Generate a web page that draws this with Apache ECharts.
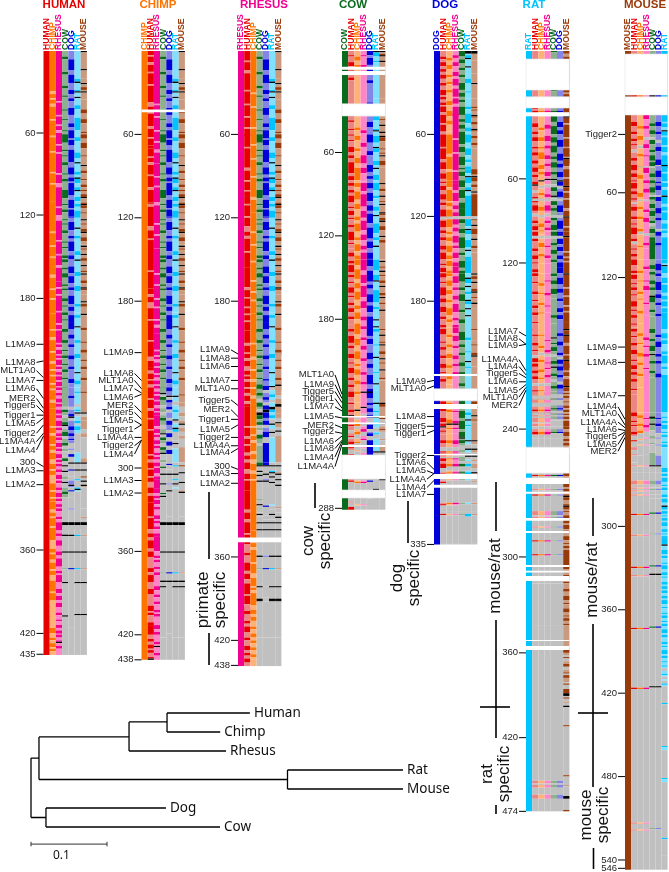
<!DOCTYPE html>
<html>
<head>
<meta charset="utf-8">
<style>
  html, body { margin: 0; background: #fff; }
  #chart { width: 669px; height: 872px; }
</style>
<script src="https://cdn.jsdelivr.net/npm/echarts@6/dist/echarts.min.js"></script>
</head>
<body>
<div id="chart"></div>
<script>
// stripes are written as level + row count, @n jumps to display row n
// f = full colour, t = tint, k = black, g = grey (no match)
const speciesOrder = ['HUMAN', 'CHIMP', 'RHESUS', 'COW', 'DOG', 'RAT', 'MOUSE']
const fullColors = ['#e60000', '#ff7300', '#f20090', '#0a6a1e', '#0000d8', '#00c4ff', '#993a0a']
const tintColors = ['#ec8585', '#ffb277', '#ff85c8', '#8fb08f', '#8585e8', '#80e0ff', '#c99a80']

// columns shared by the three primate panels, top part
const primateCow = 't4f2t9f2t8f2t5ft9ft6ft7ft3 @60 f6t5ft3ft4f2t6ft3f2t6 @100 f6t4ft3f2t5ft2ft4f2t6ft3ft5f2t4ft3f2t7ft2ft5f3t3 @150 f2t4ft3f3t5ft2ft6f2t3ft4f2t3ft6f3t4ft2 @200 f2t6f2t5ft3f2t4ft3f2t4ft6f3t3f2t3'
const primateDog = 't6f8t3f6t5f3t3f2t9 @41 f5t6f3t2f6tf4t3f9t2f6 @80 t4f5t2f3tf9t3f6tf5 @120 t3f6t4f2t2f7t3f3t5f4 @160 t2f5t3f2t4f6t2f3t3f5 @200 t4f3t4f2t6f3t5f2t7f3'
const primateRat = 't20f2kt5fkt3kt5f3t6f9t5f3t8f4t6ft5f2 @80 kt6f2t2kf3t3f2kt4f3t8 @110 f2t3f5t7kt5f2t9f3t6 @150 kt8f3t7f4t9f2t4 @190 f2t6kt9f2t8f3t10kt5f3'
const primateMouse = 'kt12kt6t3kt2f2tkt5t7f3t4f3t6ft4 @60 f3t3f4t5ft6kt3f2t4ft3f2t3 @100 ft2f2kt3fkf2t3ft4kt2ft3f2kt3f3t2 @140 ktft3kt2f2t3kt3ftkt4f2t3kft3 @180 ktf2t5kt9f2t8ft9 @215 f2t5ft4f2t6f2t7'

// human panel
const humanHuman = 'f435'
const humanChimp = 'f29t2f3tf3t2f9tf11tf10tf14tf7tf12 @130 tf9tf7tf12t2f8tf6tf10 @200 tf5t2f8tf6t2f4tf3tf5tf3tf7t2f4 @270 tf4t2f6tf3t2f5t3f4tf3t6f5tf4tf2 @330 t2f3tf6tf9t6f3tf4t2f5tf3t4f8tf6t2f3tf4 @395 t20f4t3f2t2f3tf2t6'
const humanRhesus = 'f36tf9tf6tf3t2f8tf5tf14tf6t3f4tf5t @100 f12tf5t4f14tf9tf7t2f10 @170 tf4tf11tf8tf3tf4 @210 tf2t2f3tf2tf4tf2t2f2tf3tf3tf2t2f2t2f3tf2t2f3tf2t2f4 @270 tf2t2f2tf2t2f3tf2t2f3tf2tf2t2f2t2f3tf2t3f2t2f3tf2t2f2tf2t4f2t2f2tf2 @340 f5t2f2t3f4t4f3t2f6t3f2tf5t5f3t2f3t2f3t4f2t3f2t2f2t3f2 @410 t3f2t2f2tf2t2fkt2f2'
const humanCow = primateCow + ' @242 t14g2f2t2g2t3f2kg2t2f3g2t3f2g2t2g5f2g2 @296 g2kg3kg3t2g2kg3t3f2t2g20f2g8 @339 k2g7kg11kg11tg9kg23kg31'
const humanDog = primateDog + ' @242 t6f2t6g2t3f2kg2t4f3t2f2t2ft2g4tg3 @290 f2g4kg4fg4g3t3ktg2fg4g8tg14 @339 k2g7kg11kg11fg42'
const humanRat = primateRat + ' @242 t3ft8g2t2ftkg2t3f2gtf3t2g14 @296 kg4kg6fg5fktg27 @339 k2g7fg11kg11fg9kg22kg31'
const humanMouse = primateMouse + ' @242 t3ft14kg2t3t6g3t3g15 @296 kg4kg4fg2kg2ktg15g6tg2g6 @339 k2g7tg11kg11tg9kg22kg31'

// chimp panel
const chimpChimp = 'f438'
const chimpHuman = 'f3tf4t2f5tf8tf12t3f4tf9t2f6tf5 @70 f6tf3t2f7tf8t2f9 @110 t2f14t3f6tf22tf12 @175 t2f4t4f8tf14tf11t3f5 @230 t2f4tf3t2f8tf6t2f5tf7tf9 @290 tf3t2f4tf5tf3t4f4t2f5 @335 tf8t3f3t2f6t2f4t8f3t2f5t5f4t8f4tf2t5f2 @420 t3f2t2f3tf2t3fkf3t2f2'
const chimpRhesus = 'f38tf8tf9tf7tf5t2f8 @90 tf6tf11t2f13tf7tf9 @160 tf7tf9tf5tf8tf3t2f4 @215 tf3tf2t2f3tf4tf2t2f3tf2t2f2tf3tf3t2f2tf2 @270 t2f3tf2t2f3tf2t3f2tf2t2f3tf4t2f2 @315 f3t2f2tf3t2f2t4f3tf2t2f2t3f2 @360 t3f2tf2t3f2t2f2t8f3t3f2t3f2t4f2tf2 @410 t3f3t2f2t5f2tkt4f2'
const chimpCow = primateCow + ' @242 t4kg2f2t4g2t3g2t2f2t3g3t3kg2f2t2g3f2t2kg4 @296 g3fg4kg6kg6fgkg17g4 @339 k2g19kg14tg5kg3kg36'
const chimpDog = primateDog + ' @242 f3t3kg2f2t3f2g2t4g2f3t4g2f3g3f3g3 @290 g7fg3g3kg6tg4kg18 @339 k2g19kg14fg5kg37'
const chimpRat = primateRat + ' @242 t6kt3g3t3f2t5kg2t3kf2g6g2kg3 @296 g2fg5kg3fg2kg2tg25 @339 k2g19kg14fg5kg3kg36'
const chimpMouse = primateMouse + ' @242 t5ft5t3g4t3g3t2kg2t3g3t2g6 @296 g2fg4kg6kg5tkg17g4 @339 k2g19kg14tg5kg3kg36'

// rhesus panel
const rhesusRhesus = 'f443'
const rhesusHuman = 'f7tf6t2f12tf9tf8tf7tf5 @60 f9tf14t2f7tf6tf4 @110 tf8tf6t4f3t2f9tf11 @170 t2f5tf6tf4tf4tf6 @210 t2f5tf3t2f4t3f3tf2t2f4tf3t2f4t2f2 @270 tf6t2f4tf5t2f3t2f5t3f4tf7 @330 t2f5t2f8tf3 @355 t6f2t5f6t2f4t3f8tf6t2f8 @400 t3f2t5f2t2f4t4f2t4f3t2f2t2f3t4f2'
const rhesusChimp = 'f30tf9tf14tf11tf9tf12tf14t2f9 @130 tf8tf11tf13tf7tf5tf9 @210 tf9t2f7tf6t2f4tf5t2f4 @270 tf5tf3t2f6t2f4t3f5t2f4tf9 @345 f8tf3t2f9tf7t3f6tf2t2f5 @395 f4t3f3t2f3t4f2t3f3t2f2t3f2t3f2t2'
const rhesusCow = primateCow + ' @237 t3f3t3f2t2g3f3t2g2k2f3t2f2g2t2g3f3t3g2 @296 f2kg3kgtkg3kg12tg3kg2tg2gkg @339 kg4kg18kg8tg12kg8kkg26'
const rhesusDog = primateDog + ' @237 t4f3g2t3f2t2g2f3k2f4t2f3g2t3f4g4 @296 f2kg5kg3tkg3g14fg6g3 @339 kg4kg18tg8fg12g8g3g26'
const rhesusRat = primateRat + ' @237 t4kg2t3f2t2g2t3k2f2t2f2tg3kt3g2kg3 @296 g2kg3fkg2kg3kg15tg3g3kg3 @339 kg4kg18kg8fg12kg8kkg26'
const rhesusMouse = primateMouse + ' @237 t3kt5t2g2t4k2t5t3g3kt3g2kg3 @296 g2kg4tkg3kg3kg15tg3g3kg3 @339 kg4kg18kg8tg12kg8kkg26'

// cow panel
const cowCow = 'f330'
const cowHuman = 't3ft4f3t3ft4f2t30 @47 t3ft5ft3ft3ft4f4t2f2t3f8t2f3t4 @95 f2t3f2t2f5t3ft2f3t2ft4f2t3f6t2ft3 @145 f3t3f2tf5t2f2t3ft3f4t2ft4f2t2f3t3f2t4 @200 f2t3f5t2f2t4f3t3ft3f4t3f2t3f2t3f4t3 @253 ft4f2t2kt4t2ft3g2t2fgt2f2gtftg3ftg2 @300 ftg3t2gtfg8ftg4tg3f2tg8'
const cowChimp = 't4f3t3f2t28 @47 t8f2t4f3t6f2t5f4t3f9t4 @95 f3t3f6t3f4t5f3t2f6t4f2t3f5t3 @150 f4t3f7t3f4t2f6t4f3t2f5t3f8t3 @210 f2t4f6t3f2t2f4t4f3t5f2t6 @258 kt4g2t3f2g2t2f2g3t2fg5tg3 @300 ftg3t3gtfg8t2g5tg3f2tg8'
const cowRhesus = 't3ft6f2t24 @47 t10f2t7f3t6f6t3f4t6 @95 f6t2f9t3f5t2f7t3f4t4f3t2 @150 f8t3f6t2f8t3f5t6f3t4 @200 t6f2t4f3t6f2t8f2t5f2 @245 kt10kt4g2t4fg2t2f2g3t2fg5tg3 @300 ftg3t3gtfg8t2g5tg3f2tg8'
const cowDog = 'f3t2f5t3f2t6f2t14f2t2 @47 t4f4t5f6t6f3t7f5t3f2t3 @95 f4t3f6t3f4t2f7t3f8t2f5t3f4 @150 f5t3f8t2f3t4f6t2f5t3f9t4 @200 f5t2f4t6f5t3f3t5f7t3f4 @245 kf4t3f2t2f3t2f2g3t2f3g2tf2g3 @290 fg3tg5fg3tg4fg12g6'
const cowRat = 'kf3t3ft26 @47 f3t4t2fkt3f5t3kf3t6f3t2kt4f4t3 @95 f5t4f2t6f3t3kt5f7t3f2t4kt5 @150 f8t3f4kt6f9t3f2t7kt4kt4 @200 f2t9ft8kt10ft7kt4 @253 kt5ft3kt3ft3g3tfg3 @288 kg6ftg4kg3kg9kg2'
const cowMouse = 'ktfkt3kt26 @47 t2ft3kt4kt2kf3t5ft2ftkt3f3t2 @95 kt3f2t3kt3ftkt5kft2f2kt3f3t4kt2f2 @150 tkt3ft2kt2ft3f2t2kt4f2tkt3ft4kt3 @200 ft3kt4ftkt4f2t3kt2ft4kt5ft @253 kf2t3t5fg2kg2t2ftg5tg3 @288 kg4tg5tg4kg3kg9kg2'

// dog panel
const dogDog = 'f355'
const dogHuman = 't4f2t2f3t2f2t2f3t3f2t3f4tf2t2f2t3 @40 f4t2f6tf5t2f9tf8t2f5 @85 t3f4t2ft2f3t3f4t2f2t3f6 @119 g2tf5t2f2t3f2t4f3t2f5t3ft2f3t4 @160 f3t3ft3f6t2f3t3f4t3f2t4f2t3 @200 f4t5ft3f2t4f2t4f3t3ft4f2t3 @245 t7f2t3f2t5f3tf2kt2ft2 @280 f2t3g3ft3gf2t3g2 @297 f3g3tf2tg2tfg4 @325 tfg4g2fg20'
const dogChimp = 't5f2t3f3t4f2t3f2t4f2t6f3t4f4t3f3t5 @60 f14t2f9t2f6 @95 f3t2f8tf3t2f6 @119 g2f6t3f2t2f3t3f5t2f3tf4t3 @160 f2t3f4t3f3t4f2t4f5t3f2t4 @200 t4f2t5f2t3t2f3t5f2t6f2t4 @245 t8f2t3f2t5f3kt2ft3 @280 f2t3g3ft3gft3g2 @297 f2g3tft2g2tg4 @325 ftg4g2tg20'
const dogRhesus = 't3f2t3f3t4f3t2f5t2f6tf4t2f7 @45 f18tf9tf12tf6 @95 f5t2f6t3f3t2 @119 g2f4t2f3t3f5t2f2t3f4t3f3 @160 t2f5t3f2t4f3t3f6t4f2t3f2 @200 f3t2f4t3f2t5f3t3f2t4f3t2 @245 t9f2t3ft6f2kt2ft3 @280 f3t2g3ft2g2ft3g2 @297 f2g3tft2g2tg4 @325 ftg4g2tg20'
const dogCow = 'f4t2f3t3f2t3f2t4f5t2f3t2f2t3 @40 f6t3f2t2f3t2f9t2f4t3f6t2f5 @85 t2f3t3f5t2f6t3f4 @119 g2f3t4f3t3f8t3f2t4f5t2 @160 f6t4f2t3f5t6f2t5f3t4 @200 t2f6t3f2t4f2t5f3t4f2t6f2 @245 t5f6t3f5t2f6t2f4kt3 @280 f2t2g3t2g3t3g2 @297 f2g3tft2g2tg4 @325 tg5g2tg20'
const dogRat = 'k2tf2kt5kt8f3t6ft4 @40 f2t3f7t3f3t2f6t4f5t3f2t3 @85 f3t2kf4t3f2kt3 @119 g2f5t2kf3t4f5t2kt4f3 @160 t3kf3t2kt3f2t4kf2t3kt4kt @200 t6f2t8ft6kt3ft6 @245 t3kt6ft4f2t3kt3f @280 kt2g3kt2g2kg2t @297 f2g3tf2tg2tg4 @325 tg5g2f2g20'
const dogMouse = 'k2t5t9t7kt10 @40 ftft3kft3f2t3kft3f2t3f2t2 @85 f4tkf3t2f2t3kt @119 g2ft3kt2f4t3kt4f2t3 @160 ktf2t2kt4f2kt3ft3kt3 @200 ft7t3ft5f2kt7 @245 t2kt4f2t2kt5kt2ft @280 kt2g3kt2g2kg2t @297 t3g3kt2g3tg4 @325 tg5g2tg20'

// rat panel
const ratRat = 'f547'
const ratTailA = ' @245 t3g3t2g3t2ftg2tgt3g @270 g2t2f2g3 @303 g2fg9tg3fg11t3gtg6tg9fg9fg20g30 @430 g95t2gt2g5t3g30'
const ratTailB = ' @245 t2g3tg4t2ftg2tgt2g @270 g2t2fg4 @303 g2fg9tg3tg11t3gtg6tg9tg9tg20g30 @430 g95t2gt2g5t3g30'
const ratHuman = 't6 @22 tf2t8 @41 ftf @47 t5f3t3f2t2f3t4f2t3f2t2f3t2f @70 t3f2t4f2t3f3t2f2t3f2kt3g2t3f2t2 @106 g2ft2f4t2g2t3f2t2f3t @133 g2f2t5f2t3f3t2ft4f2t3 @160 f2t4ft6f2t4ft3f2t3f2t5ft4f @200 t4ft5f2t3ft3g2f3t2f2t4 @225 f2t3f2t2f2t3g2t3f2t2 @245 g3t2ft3g2t2g2ftg3' + ratTailA
const ratChimp = 't6 @22 t2ft8 @41 t2f @47 t8f2t5f3t4f2t5 @70 t3f5t4f3t2f2t4kt3g2t3f2t3 @106 g2t4f3t3g2t4f3t2ft2 @133 g2t3f3t5f2t5 @160 t7f2t5ft6f2t5ft6 @200 t4ft7f2t3g2t3f2t3 @225 t4f2t4ft3g2t3ft3 @245 g3t2ft3g2t2g2ftg3' + ratTailA
const ratRhesus = 't6 @22 tft9 @41 t2f @47 t6f3t5f4t3f3t3 @70 t5f3t3f2t4f3t2kt3g2t5f2t2 @106 g2t3f4t2g2t3f2t3f2t @133 g2t5ft6f2t4 @160 t5ft8f2t7ft4 @200 t8ft6f2tg2t4ft3 @225 t3ft4f2t4g2t5f @245 g3t3ft2g2t2g2ftg3' + ratTailA
const ratCow = 'ft5 @22 t4f3t4 @41 t2f @47 f4t3f6t2f4t2f3t2f2t3 @70 f3t3f2t2f4t3f2t3kt3g2f3t3k @106 g2f3t2f2t3g2f2t3f4t @133 g2t3f2t3f3t4f2t2 @160 f2t3f3t3f4t3t12f2t4 @200 t6kt3ft2f3t2g2t3f3 @225 t2kt4f2t2g2t3f2t2 @245 g3t2kt3g2t2g2ktg3' + ratTailB
const ratDog = 't6 @22 t3f2t6 @41 t2f @47 t4f4t2f3t4f5t2f3 @70 t4f5t2f3t3f4t2kf3g2t2f4t3 @106 g2t3f5t2g2t2f6t2f @133 g2f4t2f3t3f3t2f4 @160 t3f5t3f3t4f2t5f3t2f3 @200 t3f2t4f3t5f2tg2f4t4 @225 t2f3t3f2t3g2f3t4 @245 g3t2ft3g2t2g2ktg3' + ratTailB
const ratMouse = 'f2t2f2 @22 f3t2f3tf2 @41 f3 @47 kf4tf9tf6tf3tf3tf3 @70 f6tkf5t2f6tf5kf3tf3 @106 tf6t2f4kf6tf3 @133 kf10tf3tf2tf7 @160 kf9tf5tf6tf3tf7 @200 kf3kf5t2f6tf3kf5 @225 f5tf3t2f5kf3tf @245 tftf2t2ft2f2tf2tftf2t @270 f2t2f3t2f2tf2tf3t @303 f3tfkf5tf2t2fkf2t3fkf2tft2f2tf3tf3tf2t2f3t2ftf2t @370 f3t4f2t3ft4f2t3f3t2ft3f3t2ftf2t2f @430 f3t2gfg2t2f2g2t2fgf2t3gfg3 @462 k2gfg2tg2kg13fg35fg6tg7k2g8fg2'

// mouse panel
const mouseMouse = 'f589'
const mouseStrips = ' @298 tg4g6t3g2tgtg2tg3g10fg14tg22fg5tg37fg42fg96tg4tg30'
const mouseStripsB = ' @298 kg4g6t3g2gtg3g3g10fg14tg22fg5kg37fg42kg96g5tg30'
const mouseHuman = 't2 @31 f2 @46 t5f3t4f2t3f2t2ft3g2t4f2t3f4t2f3t2ft3f2gt3f3t2 @95 f4t2f2t3ft2gt2f3t4f2t3ft2f5t3f2g2t3ft3f2t2 @150 f4t4f2tf3t3ft2f2t3ft4f4t2ft3f2t4ft2 @200 f2t3ft4f2t3f3t4ft3f3t2f2t3f2t5ft3 @260 f3t3ft2ft4f2tg3fg4t2g3tg5' + mouseStrips
const mouseChimp = 't3 @31 f2 @46 t8f2t5f3t4g2t4f2t6f2t3 @80 t3gt5f3t3f2t2 @95 t7f3t2gt4f2t5f2t7f2g2t8f @150 t8f2t5ft7f2t3ft8f2t7 @200 t3f2t5ft6f3t4f2t6f2t8 @260 t2f2t4f2t3f2g4tg3tg7' + mouseStrips
const mouseRhesus = 't3 @31 t2 @46 f3t5f2t6g2t3f3t5ft7 @80 t3gf4t5f2t3 @95 t4f3t5gt6f2t4f3t8g2t5f2t2 @150 t5f2t8ft3f3t9ft8 @200 t6f2t4ft5f2t8ft7 @260 t4ft4f2t3g4tg4tg6' + mouseStrips
const mouseCow = 't3 @31 k2 @46 t6f2t3f3t2g2f3t4f2t2f4t3 @80 f3gt4f3t2f3 @95 t3f4t2gf2t3f3t2f4t3f2g2t2f3t3f2 @150 t4f3t2f2t4f3t2f2t4kf4t5f2t3 @200 f3t4f2t3f4t2kt4f2t5f2t3 @260 t3kft3kt4g4t2g3tg6' + mouseStripsB
const mouseDog = 't3 @31 f2 @46 t5f3t4f2t4g2t3f3t6f4t2 @80 f2gt3f5t3f3 @95 t2f3t4gf3t5f4t3f2t6g2f3t5f2 @150 t3f5t2f2t4f6t3f3t3f2t6f2 @200 t4f2t3f4t5f2t3f2t7f3 @260 t4ft3f2t5g3tg4tg7' + mouseStripsB
const mouseRat = 'f3 @31 f2 @46 f5tf3t2kf3tf6tf4t2f5tf3 @80 f2kf4tf6tf2 @95 f3t2f4kf5t2f3tf6t2f4tf2t3 @150 f3tkf5t3f4tf6t2f3tf4tf3 @200 t3f4tf3t5f2tf6t2f2t4f3 @260 t3ft2f2tf3t2ftf2t3ftf2 @300 f3tf2tf3t2ftf2t3f2tf3t2kf2tf2tftf2tf3t2f2tftf2 @355 kt3f3tf2t3ftf3t2f2tft3f2tf2tf2t2f2tf3t2ft3ftf2t2ftf2t2f3tf2t3f2tft2f3tf2t2 @440 t2ftg2t2ftg2tg2ftg12fg30ft2g20ft2g40fg12'

const panels = [
  { title: 'HUMAN', left: 43.5, rows: 434.5, order: [0, 1, 2, 3, 4, 5, 6],
    stripes: [humanHuman, humanChimp, humanRhesus, humanCow, humanDog, humanRat, humanMouse],
    gaps: [],
    tags: ['60', '120', '180', 'L1MA9', 'L1MA8', 'MLT1A0', 'L1MA7', 'L1MA6', 'MER2', 'Tigger5', 'Tigger1', 'L1MA5', 'Tigger2', 'L1MA4A', 'L1MA4', '300', 'L1MA3', 'L1MA2', '360', '420', '435'],
    tagRows: [59, 118, 178, 211, 224, 230, 237, 243, 250, 255, 262, 268, 275, 281, 287, 296, 302, 312, 359, 419, 434],
    hitRows: [59, 118, 178, 211, 223, 235, 237, 250, 257, 260, 262, 264, 269, 275, 277, 299, 302, 312, 359, 419, 434],
    titleX: 64 },
  { title: 'CHIMP', left: 141.5, rows: 438, order: [1, 0, 2, 3, 4, 5, 6],
    stripes: [chimpChimp, chimpHuman, chimpRhesus, chimpCow, chimpDog, chimpRat, chimpMouse],
    gaps: [[42, 2]],
    tags: ['60', '120', '180', 'L1MA9', 'L1MA8', 'MLT1A0', 'L1MA7', 'L1MA6', 'MER2', 'Tigger5', 'L1MA5', 'Tigger1', 'L1MA4A', 'Tigger2', 'L1MA4', '300', 'L1MA3', 'L1MA2', '360', '420', '438'],
    tagRows: [60, 120, 180, 217, 232, 237, 243, 249, 255, 260, 266, 272, 278, 284, 290, 300, 309, 318, 360, 420, 438],
    hitRows: [60, 120, 180, 217, 237, 243, 246, 247, 260, 265, 269, 269, 278, 280, 280, 300, 309, 318, 360, 420, 438],
    titleX: 158 },
  { title: 'RHESUS', left: 238, rows: 442.5, order: [2, 0, 1, 3, 4, 5, 6],
    stripes: [rhesusRhesus, rhesusHuman, rhesusChimp, rhesusCow, rhesusDog, rhesusRat, rhesusMouse],
    gaps: [[350, 3.5]],
    tags: ['60', '120', '180', 'L1MA9', 'L1MA8', 'L1MA6', 'L1MA7', 'MLT1A0', 'Tigger5', 'MER2', 'Tigger1', 'L1MA5', 'Tigger2', 'L1MA4A', 'L1MA4', '300', 'L1MA3', 'L1MA2', '360', '420', '438'],
    tagRows: [60, 120, 180, 215, 221, 227, 237, 243, 251, 258, 265, 272, 278, 284, 289, 299, 304, 311, 364, 424, 442],
    hitRows: [60, 120, 180, 218, 221, 227, 237, 243, 255, 263, 265, 269, 278, 284, 286, 301, 304, 311, 364, 424, 442],
    titleX: 264 },
  { title: 'COW', left: 342, rows: 330, order: [3, 0, 1, 2, 4, 5, 6],
    stripes: [cowCow, cowHuman, cowChimp, cowRhesus, cowDog, cowRat, cowMouse],
    gaps: [[11.3, 2.2], [14.4, 2.9], [38, 8.7], [262.5, 1.2], [267, 1.4], [283.5, 1.4], [290.6, 17.3], [315.8, 5.8]],
    tags: ['60', '120', '180', 'MLT1A0', 'L1MA9', 'Tigger5', 'Tigger1', 'L1MA7', 'L1MA5', 'MER2', 'Tigger2', 'L1MA6', 'L1MA8', 'L1MA4', 'L1MA4A', '288'],
    tagRows: [73, 133, 193, 233, 240, 245, 250, 256, 263, 269, 274, 281, 286, 292, 299, 329],
    hitRows: [73, 133, 193, 247, 250, 253, 257, 259, 264, 271, 275, 277, 280, 281, 283, 329],
    titleX: 353 },
  { title: 'DOG', left: 434, rows: 355, order: [4, 0, 1, 2, 3, 5, 6],
    stripes: [dogDog, dogHuman, dogChimp, dogRhesus, dogCow, dogRat, dogMouse],
    gaps: [[232.4, 1.4], [243, 8.6], [254, 3.6], [290, 0.8], [304.3, 3.6], [312, 2.2]],
    tags: ['60', '120', '180', 'L1MA9', 'MLT1A0', 'L1MA8', 'Tigger5', 'Tigger1', 'Tigger2', 'L1MA6', 'L1MA5', 'L1MA4A', 'L1MA4', 'L1MA7', '335'],
    tagRows: [60, 119, 180, 238, 243, 263, 270, 275, 291, 296, 302, 308, 314, 319, 355],
    hitRows: [60, 119, 180, 237, 241, 263, 270, 273, 291, 301, 304, 304, 309, 319, 355],
    titleX: 445 },
  { title: 'RAT', left: 526, rows: 547, order: [5, 0, 1, 2, 3, 4, 6],
    stripes: [ratRat, ratHuman, ratChimp, ratRhesus, ratCow, ratDog, ratMouse],
    gaps: [[5.8, 22.3], [33, 8], [44, 3], [285, 18.7], [307, 4.5], [317, 1.5], [336, 2], [345.3, 1.5], [369.8, 1.4], [374, 1.2], [377.7, 3.6], [423.7, 0.8], [428, 3]],
    tags: ['60', '120', 'L1MA7', 'L1MA8', 'L1MA9', 'L1MA4A', 'L1MA4', 'Tigger5', 'L1MA6', 'L1MA5', 'MLT1A0', 'MER2', '240', '300', '360', '420', '474'],
    tagRows: [92, 152.5, 202, 207, 212, 222, 227, 232, 238, 244, 249, 255, 272, 364, 433, 494, 547],
    hitRows: [92, 152.5, 205, 211, 211, 230, 233, 235, 238, 240, 242, 244, 272, 364, 433, 494, 547],
    titleX: 534 },
  { title: 'MOUSE', left: 625, rows: 589, order: [6, 0, 1, 2, 3, 4, 5],
    stripes: [mouseMouse, mouseHuman, mouseChimp, mouseRhesus, mouseCow, mouseDog, mouseRat],
    gaps: [[2.2, 29.5], [33, 13]],
    tags: ['Tigger2', '60', '120', 'L1MA9', 'L1MA8', 'L1MA7', 'L1MA4', 'MLT1A0', 'L1MA4A', 'L1MA6', 'Tigger5', 'L1MA5', 'MER2', '300', '360', '420', '480', '540', '546'],
    tagRows: [60, 102, 163, 213, 224, 248, 256, 261, 267, 272, 277, 283, 288, 342, 402, 462, 522, 582, 588],
    hitRows: [60, 102, 163, 213, 224, 248, 265, 269, 271, 273, 274, 275, 278, 342, 402, 462, 522, 582, 588],
    titleX: 645 }
]

// tree branches in substitutions per site (x) and leaf slots (y)
const treeLeaves = ['Human', 'Chimp', 'Rhesus', 'Rat', 'Mouse', 'Dog', 'Cow']
const treeLeafX = [0.288, 0.249, 0.2566, 0.4895, 0.4895, 0.1776, 0.2487]
const treeLeafY = [0, 1, 2, 3, 4, 5, 6]
const treeBranches = [
  [0, 2.37, 0, 5.5], [0, 2.37, 0.0105, 2.37], [0.0105, 1.26, 0.0105, 3.5],
  [0.0105, 1.26, 0.129, 1.26], [0.129, 0.47, 0.129, 2], [0.129, 2, 0.2566, 2],
  [0.129, 0.47, 0.179, 0.47], [0.179, 0, 0.179, 1], [0.179, 0, 0.288, 0], [0.179, 1, 0.249, 1],
  [0.0105, 3.5, 0.3375, 3.5], [0.3375, 3, 0.3375, 4], [0.3375, 3, 0.4895, 3], [0.3375, 4, 0.4895, 4],
  [0, 5.5, 0.0197, 5.5], [0.0197, 5, 0.0197, 6], [0.0197, 5, 0.1776, 5], [0.0197, 6, 0.2487, 6]
]
const scaleBar = [[0, 6.9, 0.1, 6.9], [0, 6.78, 0, 7.02], [0.1, 6.78, 0.1, 7.02]]

const ROW_PX = 1.39
const MAX_ROWS = 590
const COL_W = 6.2
const LEVELS = { f: 0, t: 1, k: 2, g: 3 }

// rows skipped by an anchor take the commonest level since the last anchor
function fillLevel(runs, from) {
  const tally = [0, 0, 0, 0]
  runs.slice(from).forEach(r => { tally[r[2]] += r[1] - r[0] })
  tally[2] = -1
  return tally.indexOf(Math.max(...tally))
}

function decodeStripes(text, total) {
  const runs = []
  const re = /@(\d+)|([ftkg])(\d*)/g
  let at = 0
  let from = 0
  let m
  while ((m = re.exec(text))) {
    if (m[1]) {
      const n = +m[1]
      if (n > at && runs.length) runs.push([at, n, fillLevel(runs, from)])
      at = n
      from = runs.length
    } else {
      const count = m[3] ? +m[3] : 1
      runs.push([at, at + count, LEVELS[m[2]]])
      at += count
    }
  }
  if (at < total && runs.length) runs.push([at, total, fillLevel(runs, from)])
  return runs.filter(r => r[0] < total).map(r => [r[0], Math.min(r[1], total), r[2]])
}

function cellSeries(panel, i) {
  const data = []
  panel.stripes.forEach((text, col) => {
    decodeStripes(text, panel.rows).forEach(r => data.push([col, r[0], r[1], r[2]]))
  })
  return {
    type: 'custom',
    xAxisIndex: i,
    yAxisIndex: i,
    silent: true,
    animation: false,
    data: data,
    renderItem(params, api) {
      const col = api.value(0)
      const top = api.coord([col, api.value(1)])
      const size = api.size([1, api.value(2) - api.value(1)])
      const sp = panel.order[col]
      const level = api.value(3)
      const color = level === 0 ? fullColors[sp] : level === 1 ? tintColors[sp] : level === 2 ? '#000' : '#c0c0c0'
      return {
        type: 'rect',
        shape: { x: top[0] - size[0] / 2, y: top[1], width: size[0], height: size[1] },
        style: { fill: color }
      }
    }
  }
}

function gapSeries(panel, i) {
  return {
    type: 'custom',
    xAxisIndex: i,
    yAxisIndex: i,
    silent: true,
    animation: false,
    z: 3,
    data: panel.gaps,
    renderItem(params, api) {
      const sys = params.coordSys
      const top = api.coord([0, api.value(0)])
      const h = api.size([0, api.value(1)])[1]
      return {
        type: 'rect',
        shape: { x: sys.x, y: top[1], width: sys.width, height: h },
        style: { fill: '#fff', stroke: h > 8 ? '#e4e4e4' : null, lineWidth: 0.6 }
      }
    }
  }
}

function tagSeries(panel, i) {
  return {
    type: 'custom',
    xAxisIndex: i,
    yAxisIndex: i,
    silent: true,
    animation: false,
    z: 4,
    data: panel.tagRows.map((r, k) => [r, panel.hitRows[k]]),
    renderItem(params, api) {
      const sys = params.coordSys
      const yText = api.coord([0, api.value(0)])[1]
      const yHit = api.coord([0, api.value(1)])[1]
      return {
        type: 'group',
        children: [
          { type: 'line', shape: { x1: sys.x - 7, y1: yText, x2: sys.x, y2: yHit }, style: { stroke: '#000', lineWidth: 1 } },
          { type: 'text', x: sys.x - 8, y: yText, style: { text: panel.tags[params.dataIndex], align: 'right', verticalAlign: 'middle', fill: '#222', font: '9.5px "Liberation Sans"' } }
        ]
      }
    }
  }
}

function segmentLine(segments) {
  const out = []
  segments.forEach(s => {
    out.push([s[0], s[1]], [s[2], s[3]], null)
  })
  return out
}

const sideNote = (text, x, y) => ({
  type: 'text', x: x, y: y, rotation: Math.PI / 2,
  style: { text: text, align: 'center', verticalAlign: 'middle', fill: '#111', font: '17px "Liberation Sans"', lineHeight: 17 }
})
const sideBar = (x, y1, y2) => ({
  type: 'line', shape: { x1: x, y1: y1, x2: x, y2: y2 }, style: { stroke: '#000', lineWidth: 1.6 }
})

const option = {
  animation: false,
  backgroundColor: '#fff',
  title: panels.map((p, i) => ({
    text: p.title, left: p.titleX, top: -1, textAlign: 'center', padding: 0,
    textStyle: { color: fullColors[p.order[0]], fontFamily: 'Liberation Sans', fontWeight: 'bold', fontSize: 11.5 }
  })),
  grid: panels.map(p => ({ left: p.left, top: 51, width: COL_W * 7, height: MAX_ROWS * ROW_PX }))
    .concat([{ left: 31, top: 713, width: 380, height: 133 }]),
  xAxis: panels.map((p, i) => ({
    gridIndex: i,
    type: 'category',
    position: 'top',
    data: p.order.map(s => speciesOrder[s]),
    axisLine: { show: false },
    axisTick: { show: false },
    splitLine: { show: false },
    axisLabel: {
      interval: 0, rotate: 90, margin: 1,
      fontFamily: 'Liberation Sans', fontWeight: 'bold', fontSize: 8.6,
      color: (value) => fullColors[speciesOrder.indexOf(value)]
    }
  })).concat([{ gridIndex: 7, type: 'value', min: 0, max: 0.5, show: false }]),
  yAxis: panels.map((p, i) => ({ gridIndex: i, type: 'value', inverse: true, min: 0, max: MAX_ROWS, show: false }))
    .concat([{ gridIndex: 7, type: 'value', inverse: true, min: 0, max: 7, show: false }]),
  series: [
    ...panels.map(cellSeries),
    ...panels.map(gapSeries),
    ...panels.map(tagSeries),
    {
      type: 'line', xAxisIndex: 7, yAxisIndex: 7, silent: true, clip: false, showSymbol: false,
      connectNulls: false, lineStyle: { color: '#000', width: 1.3 },
      data: segmentLine(treeBranches)
    },
    {
      type: 'line', xAxisIndex: 7, yAxisIndex: 7, silent: true, clip: false, showSymbol: false,
      connectNulls: false, lineStyle: { color: '#333', width: 1 },
      data: segmentLine(scaleBar)
    },
    {
      type: 'scatter', xAxisIndex: 7, yAxisIndex: 7, silent: true, symbolSize: 0, clip: false,
      itemStyle: { opacity: 1 },
      label: { show: true, position: 'right', distance: 4, formatter: '{b}', color: '#111', fontFamily: 'Noto Sans', fontSize: 13.5 },
      data: treeLeaves.map((name, k) => ({ name: name, value: [treeLeafX[k], treeLeafY[k]] }))
        .concat([{ name: '0.1', value: [0.04, 7.5], label: { position: 'inside', fontSize: 12 } }])
    }
  ],
  graphic: [
    sideBar(209, 492, 559), sideBar(209, 633, 665), sideNote('primate\nspecific', 211.5, 600),
    sideBar(315, 483, 508), sideNote('cow\nspecific', 317, 541),
    sideBar(408, 501, 543), sideNote('dog\nspecific', 405.5, 578),
    sideBar(496, 482, 531), sideBar(496, 620, 738), sideNote('mouse/rat', 495, 576),
    sideNote('rat\nspecific', 495.5, 774), sideBar(496, 805, 814),
    { type: 'line', shape: { x1: 480, y1: 707, x2: 510, y2: 707 }, style: { stroke: '#000', lineWidth: 1.6 } },
    sideBar(593, 498, 536), sideBar(593, 624, 787), sideNote('mouse/rat', 592, 580),
    sideNote('mouse\nspecific', 595, 815), sideBar(593.5, 848, 869),
    { type: 'line', shape: { x1: 578, y1: 713, x2: 608, y2: 713 }, style: { stroke: '#000', lineWidth: 1.6 } }
  ]
}

const chart = echarts.init(document.getElementById('chart'), null, { renderer: 'canvas' })
chart.setOption(option)
</script>
</body>
</html>
